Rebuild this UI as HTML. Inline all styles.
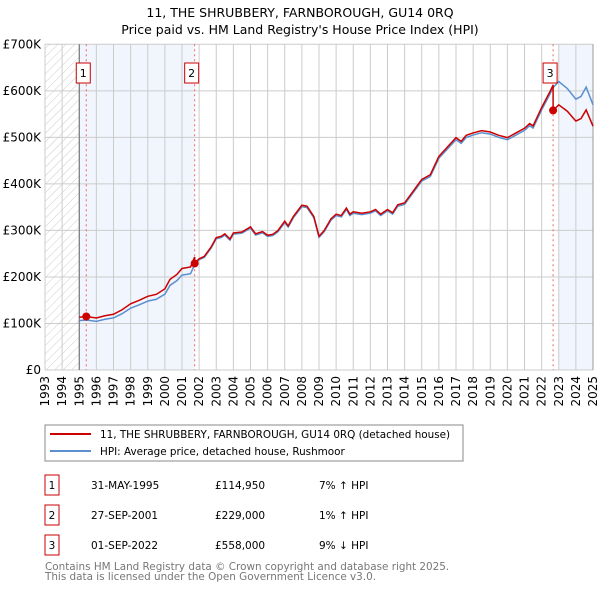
<!DOCTYPE html>
<html><head><meta charset="utf-8"><style>
body{margin:0;background:#fff;width:600px;height:590px;overflow:hidden;font-family:"DejaVu Sans","Liberation Sans",sans-serif;}
svg text{font-family:"DejaVu Sans","Liberation Sans",sans-serif;}
</style></head><body>
<svg id="c" width="600" height="590" xmlns="http://www.w3.org/2000/svg">
<defs><pattern id="hatch" width="6" height="6" patternUnits="userSpaceOnUse" patternTransform="rotate(45)"><line x1="0" y1="0" x2="0" y2="6" stroke="#ccc" stroke-width="1"/></pattern></defs>
<text x="300" y="17" text-anchor="middle" font-size="12.5">11, THE SHRUBBERY, FARNBOROUGH, GU14 0RQ</text>
<text x="300" y="34" text-anchor="middle" font-size="12.5">Price paid vs. HM Land Registry's House Price Index (HPI)</text>
<g id="plot"></g>
<rect x="45" y="425" width="418" height="36" fill="none" stroke="#888"/>
<line x1="50" y1="434" x2="91" y2="434" stroke="#cc0000" stroke-width="2"/>
<text x="100" y="438" font-size="10.4">11, THE SHRUBBERY, FARNBOROUGH, GU14 0RQ (detached house)</text>
<line x1="50" y1="451" x2="91" y2="451" stroke="#5b8fd0" stroke-width="2"/>
<text x="100" y="455" font-size="10.4">HPI: Average price, detached house, Rushmoor</text>
<g id="tbl" font-size="10.5"></g>
<text x="45" y="570" font-size="10.4" fill="#777">Contains HM Land Registry data © Crown copyright and database right 2025.</text>
<text x="45" y="580" font-size="10.4" fill="#777">This data is licensed under the Open Government Licence v3.0.</text>
</svg>
<script>
const dates=[1995.0,1995.4,1996,1996.5,1997,1997.5,1998,1998.5,1999,1999.5,2000,2000.3,2000.7,2001,2001.5,2001.74,2002,2002.3,2002.7,2003,2003.3,2003.5,2003.8,2004,2004.5,2005,2005.3,2005.7,2006,2006.3,2006.6,2007,2007.2,2007.5,2008,2008.3,2008.7,2009,2009.3,2009.7,2010,2010.3,2010.6,2010.8,2011,2011.5,2012,2012.3,2012.6,2013,2013.3,2013.6,2014,2014.5,2015,2015.5,2016,2016.5,2017,2017.3,2017.6,2018,2018.5,2019,2019.5,2020,2020.5,2021,2021.3,2021.5,2022,2022.5,2022.67,2023,2023.5,2024,2024.3,2024.6,2025];
const hpi=[106,107.5,104.5,109,112,121,133,140,148,152,163,182,192,204,207,227,237,242,262,282,285,290,279,292,294,305,290,295,287,289,297,317,307,327,351,349,327,285,297,322,332,329,345,332,337,334,337,342,332,342,335,352,356,381,406,416,455,475,495,487,500,505,510,507,500,495,505,515,525,520,559,594,607,620,605,582,588,608,570];
const saleDates=[1995.41,2001.74,2022.67];
const salePrices=[114.95,229,558];
const saleLabels=["1","2","3"];
const saleDateText=["31-MAY-1995","27-SEP-2001","01-SEP-2022"];
const salePriceText=["£114,950","£229,000","£558,000"];
const saleDiffText=["7% ↑ HPI","1% ↑ HPI","9% ↓ HPI"];
const yTicks=[0,100,200,300,400,500,600,700];
const yTickLabels=["£0","£100K","£200K","£300K","£400K","£500K","£600K","£700K"];
const xYears=[1993,1994,1995,1996,1997,1998,1999,2000,2001,2002,2003,2004,2005,2006,2007,2008,2009,2010,2011,2012,2013,2014,2015,2016,2017,2018,2019,2020,2021,2022,2023,2024,2025];

const NS="http://www.w3.org/2000/svg";
const X0=45,X1=593,Y0=370,Y1=44.3;
const xs=t=>X0+(t-1993)/(2025-1993)*(X1-X0);
const ys=v=>Y0-v/700*(Y0-Y1);
const plot=document.getElementById('plot');
function mk(tag,at,parent){const e=document.createElementNS(NS,tag);for(const k in at)e.setAttribute(k,at[k]);(parent||plot).appendChild(e);return e;}
function hpiAt(t){for(let i=0;i<dates.length-1;i++){if(t>=dates[i]&&t<=dates[i+1]){const f=(t-dates[i])/(dates[i+1]-dates[i]);return hpi[i]+f*(hpi[i+1]-hpi[i]);}}return hpi[hpi.length-1];}

let r=mk('rect',{x:X0,y:Y1,width:X1-X0,height:Y0-Y1,fill:'#fff'});


r=mk('rect',{x:X0,y:Y1,width:xs(1995)-X0,height:Y0-Y1,fill:'url(#hatch)'});


r=mk('rect',{x:xs(1995),y:Y1,width:xs(saleDates[1])-xs(1995),height:Y0-Y1,fill:'#eef3fc',opacity:0.8});


r=mk('rect',{x:xs(2023),y:Y1,width:X1-xs(2023),height:Y0-Y1,fill:'#eef3fc',opacity:0.8});


yTicks.forEach((v,i)=>{
  const l=mk('line',{x1:X0,x2:X1,y1:ys(v),y2:ys(v),stroke:'#ccc'});
  
  
  const t=mk('text',{x:X0-4,y:ys(v)+4,'text-anchor':'end','font-size':12});
  t.textContent=yTickLabels[i];
  
  
});
xYears.forEach(yr=>{
  const l=mk('line',{x1:xs(yr),x2:xs(yr),y1:Y1,y2:Y0,stroke:'#ccc'});
  
  
  const t=mk('text',{x:0,y:0,'font-size':12,'text-anchor':'end',transform:`translate(${xs(yr)+4},${Y0+6}) rotate(-90)`});
  t.textContent=yr;
  
  
});
let ax=mk('line',{x1:xs(1995),x2:xs(1995),y1:Y1,y2:Y0,stroke:'#666'});


ax=mk('line',{x1:X1,x2:X1,y1:Y1,y2:Y0,stroke:'#999'});


saleDates.forEach((d,i)=>{
  const l=mk('line',{x1:xs(d),x2:xs(d),y1:Y1,y2:Y0,stroke:'#e66',
'stroke-dasharray':'2,3'});
  
  
});
const hp=mk('polyline',{points:dates.map((d,i)=>xs(d)+','+ys(hpi[i])).join(' '),fill:'none',stroke:'#5b8fd0','stroke-width':1.5});


let pts=[];
for(let k=0;k<3;k++){
  const ratio=salePrices[k]/hpiAt(saleDates[k]);
  const s=Math.max(k===0?dates[0]:saleDates[k],dates[0]);
  const e=k===2?dates[dates.length-1]:saleDates[k+1];
  pts.push([s,hpiAt(s)*ratio]);
  dates.forEach((d,i)=>{if(d>s&&d<e)pts.push([d,hpi[i]*ratio]);});
  pts.push([e,hpiAt(e)*ratio]);
}
const pl=mk('polyline',{points:pts.map(p=>xs(p[0])+','+ys(p[1])).join(' '),fill:'none',stroke:'#cc0000','stroke-width':1.5});


saleDates.forEach((d,i)=>{
  const c=mk('circle',{cx:xs(d),cy:ys(salePrices[i]),r:4,fill:'#cc0000'});
  
  
  const b=mk('rect',{x:xs(d)-10,y:63,width:14,height:20,fill:'#fff',stroke:'#cc0000'});
  
  
  const t=mk('text',{x:xs(d)-3,y:77,'text-anchor':'middle','font-size':11});
  t.textContent=saleLabels[i];
  
  
});
const tbl=document.getElementById('tbl');
saleLabels.forEach((lab,i)=>{
  const y=475+i*30;
  const b=mk('rect',{x:45,y:y,width:14,height:20,fill:'#fff',stroke:'#cc0000'},tbl);
  
  
  const cols=[[52,lab,'middle'],[91,saleDateText[i],'start'],[215,salePriceText[i],'start'],[319,saleDiffText[i],'start']];
  cols.forEach((c,j)=>{
    const t=mk('text',{x:c[0],y:y+14,'text-anchor':c[2]},tbl);
    t.textContent=c[1];
    
    
  });
});
</script>
</body></html>
